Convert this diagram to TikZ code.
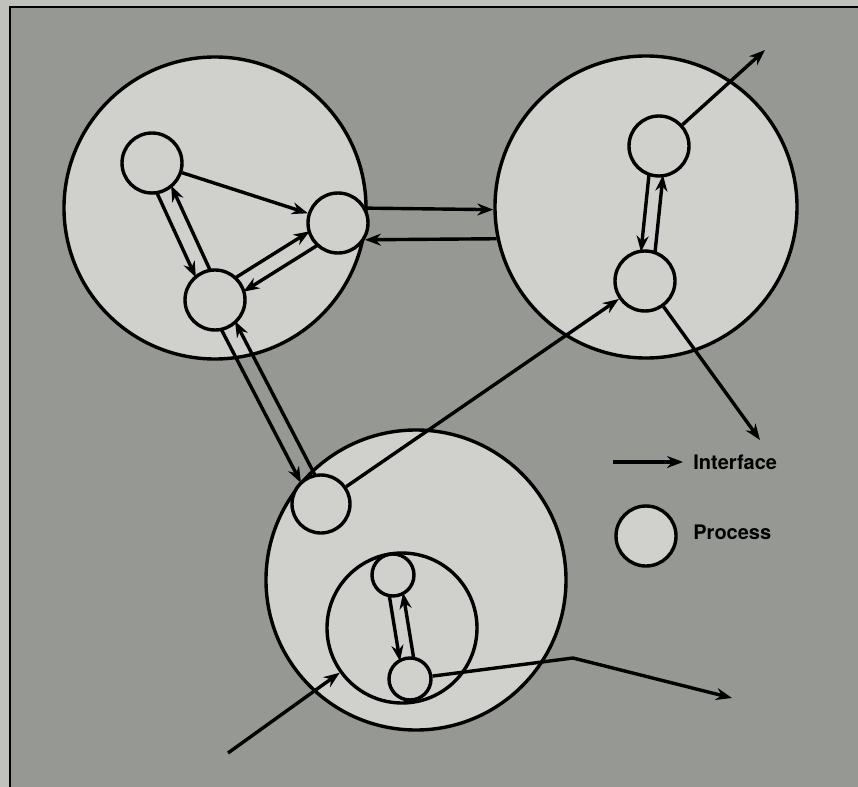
\documentclass[tikz,border=0pt]{standalone}
\usepackage{fontspec}
\setmainfont{TeX Gyre Heros}
\usepackage{tikz}
\usetikzlibrary{arrows.meta, calc, positioning}
\definecolor{paper}{RGB}{192,193,189}
\definecolor{newsprint}{RGB}{150,152,148}
\definecolor{disk}{RGB}{208,209,205}
% two parallel interfaces, one each way, between two processes
\newcommand\twoway[4]{%
  \draw[iface, shorten <=#4, shorten >=#4] ($(#1)!#3!-90:(#2)$) -- ($(#2)!#3!90:(#1)$);
  \draw[iface, shorten <=#4, shorten >=#4] ($(#2)!#3!-90:(#1)$) -- ($(#1)!#3!90:(#2)$);
}

\begin{document}
\begin{tikzpicture}[x=0.5pt, y=-0.5pt, >={Stealth[length=8pt, width=6pt]},
    env/.style={draw, circle, line width=1.7pt, fill=disk, inner sep=0pt, minimum size=#1},
    proc/.style={draw, circle, line width=1.7pt, fill=disk, inner sep=0pt, minimum size=30pt},
    iface/.style={line width=1.7pt, ->},
    legend/.style={font=\bfseries, anchor=west, inner sep=0pt}]
  \useasboundingbox (0,0) rectangle (858,787);
  \fill[paper] (0,0) rectangle (858,787);
  \fill[newsprint] (10,7) rectangle (858,787);
  \draw[line width=0.9pt] (10,787) -- (10,7) -- (858,7);

  % environments
  \node[env=151pt] (P1) at (215,208) {};
  \node[env=151pt] (P2) at (646,207) {};
  \node[env=150pt] (P3) at (416,580) {};
  \node[env=75pt] (H) at (402,628) {};

  % processes
  \node[proc] (A) at (152,163) {};
  \node[proc] (B) at (338,223) {};
  \node[proc] (C) at (215,300) {};
  \node[proc] (D) at (659,146) {};
  \node[proc] (E) at (645,281) {};
  \node[proc, minimum size=29pt] (F) at (321,504) {};
  \node[proc, minimum size=21pt] (I) at (393,575) {};
  \node[proc, minimum size=21pt] (J) at (410,679) {};

  % interfaces
  \draw[iface] (A) -- (B);
  \twoway{A}{C}{4pt}{14.2pt}
  \twoway{B}{C}{-4pt}{14.2pt}
  \twoway{C}{F}{4pt}{14pt}
  \twoway{D}{E}{3.5pt}{14.3pt}
  \twoway{I}{J}{3.5pt}{9.6pt}
  \draw[iface] (B.28) -- (P2.181);
  \draw[iface] (P2.192) -- (B.-32);
  \coordinate (dout) at (765,50);
  \draw[iface] (D) -- (dout);
  \draw[iface] (F) -- (E);
  \coordinate (eout) at (760,440);
  \draw[iface] (E) -- (eout);
  \coordinate (jbend) at (573,658);
  \coordinate (jout) at (732,698);
  \draw[iface] (J) -- (jbend) -- (jout);
  \coordinate (hin) at (228,753);
  \draw[iface] (hin) -- (H);

  % legend
  \coordinate (keytail) at (613,462);
  \coordinate (keyhead) at (683,462);
  \draw[iface] (keytail) -- (keyhead);
  \node[legend] (keyiface) at (693,462) {Interface};
  \node[proc] (keyproc) at (646,536) {};
  \node[legend] (keytext) at (693,532) {Process};
\end{tikzpicture}
\end{document}
